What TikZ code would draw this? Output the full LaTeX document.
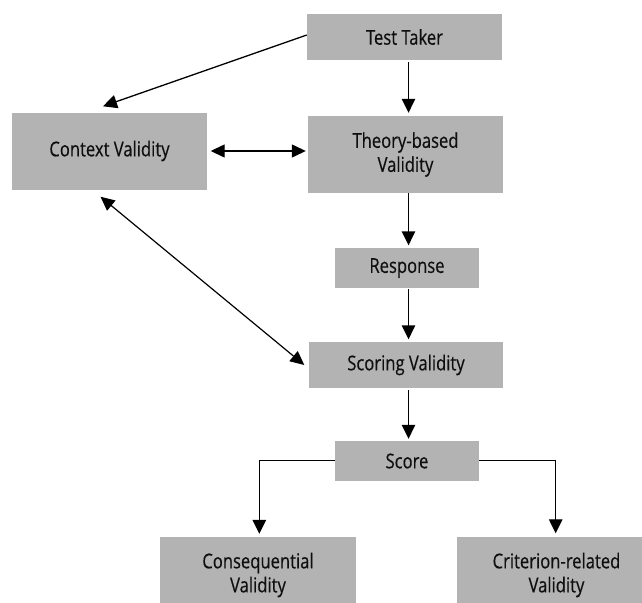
\documentclass[tikz,border=0pt]{standalone}
\usepackage{fontspec}
\setmainfont{Open Sans}[FakeStretch=0.81,FakeBold=0.4]
\usetikzlibrary{arrows.meta}
\definecolor{boxgray}{RGB}{179,179,179}
\definecolor{txt}{RGB}{15,15,15}
\begin{document}
\begin{tikzpicture}[x=1pt,y=-1pt,
  box/.style={fill=boxgray,inner sep=0pt,text=txt,font=\fontsize{20.5}{24}\selectfont,align=center},
  arr/.style={line width=1.5pt,-{Triangle[length=14pt,width=13.5pt]}},
  darr/.style={line width=1.3pt,{Triangle[length=14pt,width=13pt]}-{Triangle[length=14pt,width=13pt]}}]
\useasboundingbox (0,0) rectangle (642,602);
\node[box,minimum width=195pt,minimum height=46pt] (tt) at (404.5,37) {Test Taker};
\node[box,minimum width=195pt,minimum height=77pt] (ctx) at (109.5,151) {Context Validity};
\node[box,minimum width=195pt,minimum height=77pt] (th) at (405.5,154.5) {Theory-based\\Validity};
\node[box,minimum width=144pt,minimum height=40pt] (rs) at (407,268) {Response};
\node[box,minimum width=194pt,minimum height=46pt] (sc) at (406,365) {Scoring Validity};
\node[box,minimum width=144pt,minimum height=40pt] (scr) at (407,461) {Score};
\node[box,minimum width=196pt,minimum height=77pt] (cq) at (258,575) {Consequential\\Validity};
\node[box,minimum width=199pt,minimum height=77pt] (cr) at (556.5,575) {Criterion-related\\Validity};
\coordinate (col) at (408.5,0);
\draw[arr,line width=1.3pt] ([yshift=2pt]tt.west) -- ([xshift=-6.5pt,yshift=6pt]ctx.north);
\draw[darr] ([xshift=3.5pt]ctx.east) -- ([xshift=-2pt]th.west |- ctx.east);
\draw[darr,line width=1.2pt] ([xshift=-9pt,yshift=-7pt]ctx.south) -- ([xshift=-4.5pt]sc.west);
\draw[arr,shorten <=2pt,shorten >=3pt] (col |- tt.south) -- (col |- th.north);
\draw[arr,shorten >=2.5pt] (col |- th.south) -- (col |- rs.north);
\draw[arr,shorten <=1pt,shorten >=2.5pt] (col |- rs.south) -- (col |- sc.north);
\draw[arr,shorten <=2pt,shorten >=2pt] (col |- sc.south) -- (col |- scr.north);
\draw[arr,line width=1.3pt] ([yshift=0.5pt]scr.west) -| ([xshift=1.3pt,yshift=2.5pt]cq.north);
\draw[arr,line width=1.3pt] ([yshift=0.5pt]scr.east) -| ([xshift=-0.8pt,yshift=3pt]cr.north);
\end{tikzpicture}
\end{document}
